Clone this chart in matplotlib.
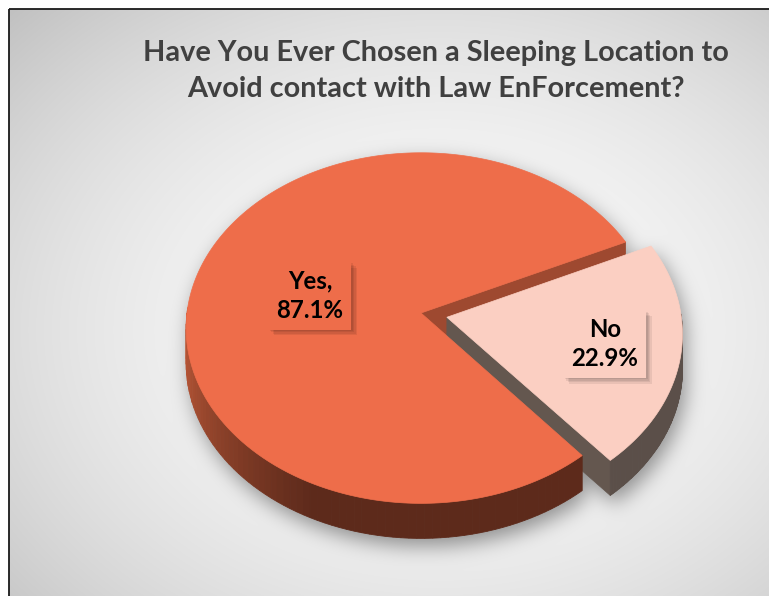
import numpy as np
import matplotlib
matplotlib.use("Agg")
import matplotlib.pyplot as plt
from matplotlib.path import Path
from matplotlib.patches import Polygon
import matplotlib.patheffects as pe

# Data
categories = ["Yes,", "No"]
values = [87.1, 22.9]
explode = [0.0, 0.113]
title = "Have You Ever Chosen a Sleeping Location to\nAvoid contact with Law EnForcement?"

# Colours
top_colors = ["#EE6D4A", "#FBCFC2"]
cut_colors = ["#9E4930", "#64574F"]
rim_light = np.array([196, 92, 58]) / 255
rim_dark = np.array([93, 42, 27]) / 255
no_rim = "#5B4F49"

W, H = 769, 596
FONT = "Lato"

# 3D pie layout (pixels)
CX, CY = 421, 313
RX, RY = 234, 174
K = 0.086          # perspective
DEPTH = 35
START = 25
label_r = [0.49, 0.68]


def proj(u, v, dz=0.0):
    w = 1 + K * v
    return CX + RX * u / w, CY - RY * v / w + dz


# slice angles from values
total = sum(values)
slices = []
a = START
for val, e in zip(values, explode):
    span = val / total * 360
    mid = np.radians(a + span / 2)
    slices.append((a, a + span, e * np.cos(mid), e * np.sin(mid)))
    a += span


def top_poly(s, dz=0.0, n=300):
    t1, t2, ox, oy = s
    t = np.radians(np.linspace(t1, t2, n))
    u = np.concatenate([[ox], ox + np.cos(t)])
    v = np.concatenate([[oy], oy + np.sin(t)])
    x, y = proj(u, v, dz)
    return np.column_stack([x, y])


def cut_face(s, ang):
    t1, t2, ox, oy = s
    t = np.radians(ang)
    x0, y0 = proj(ox, oy)
    x1, y1 = proj(ox + np.cos(t), oy + np.sin(t))
    return [(x0, y0), (x1, y1), (x1, y1 + DEPTH), (x0, y0 + DEPTH)]


def rim_color(i, deg):
    if i == 1:
        return no_rim
    f = np.clip(((deg % 360) - 180) / 65.0, 0, 1)
    return tuple(rim_light * (1 - f) + rim_dark * f)


def draw_rim(ax, i, s, n=160):
    t1, t2, ox, oy = s
    t = np.linspace(t1, t2, n + 1)
    for ta, tb in zip(t[:-1], t[1:]):
        m = np.radians((ta + tb) / 2)
        if np.sin(m) > 0.02:
            continue
        tt = np.radians(np.linspace(ta, tb, 3))
        x, y = proj(ox + np.cos(tt), oy + np.sin(tt))
        pts = list(zip(x, y)) + list(zip(x[::-1], y[::-1] + DEPTH))
        c = rim_color(i, (ta + tb) / 2)
        ax.add_patch(Polygon(pts, closed=True, fc=c, ec=c, lw=0.6, zorder=3))


def blur(arr, sigma):
    r = int(3 * sigma)
    k = np.exp(-0.5 * (np.arange(-r, r + 1) / sigma) ** 2)
    k /= k.sum()
    p = np.pad(arr, r, mode="constant")
    h = sum(k[j] * p[:, j:j + arr.shape[1]] for j in range(2 * r + 1))
    return sum(k[j] * h[j:j + arr.shape[0], :] for j in range(2 * r + 1))


# background: radial grey gradient plus soft shadow of the pie
yy, xx = np.mgrid[0:H, 0:W] + 0.5
d2 = ((xx - 440) / 560) ** 2 + ((yy - 330) / 430) ** 2
bg = np.clip(250 - 50 * d2, 185, 255) / 255

pts = np.column_stack([xx.ravel(), yy.ravel()])
mask = np.zeros(H * W, dtype=bool)
for s in slices:
    for dz in np.linspace(0, DEPTH, 8):
        poly = top_poly(s, dz + 8, n=120)
        poly[:, 0] += 4
        mask |= Path(poly).contains_points(pts)
shadow = blur(mask.reshape(H, W).astype(float), 10)
bg = bg * (1 - 0.4 * shadow)
bg[:9, :] = 1.0
bg[:, :9] = 1.0
rgb = np.dstack([bg, bg, bg])

fig = plt.figure(figsize=(W / 100, H / 100), dpi=100)
ax = fig.add_axes([0, 0, 1, 1])
ax.imshow(rgb, extent=(0, W, H, 0), zorder=0, interpolation="bilinear")
ax.set_xlim(0, W)
ax.set_ylim(H, 0)
ax.axis("off")

# visible cut faces first
for i, s in enumerate(slices):
    t1, t2, _, _ = s
    if np.sin(np.radians(t1 - 90)) < 0:
        ax.add_patch(Polygon(cut_face(s, t1), closed=True, fc=cut_colors[i],
                             ec=cut_colors[i], lw=0.5, zorder=2))
    if np.sin(np.radians(t2 + 90)) < 0:
        ax.add_patch(Polygon(cut_face(s, t2), closed=True, fc=cut_colors[i],
                             ec=cut_colors[i], lw=0.5, zorder=2))

# exploded slices behind, then the rest
order = sorted(range(len(slices)), key=lambda j: -explode[j])
for i in order:
    s = slices[i]
    draw_rim(ax, i, s)
    ax.add_patch(Polygon(top_poly(s), closed=True, fc=top_colors[i],
                         ec=top_colors[i], lw=0.5, zorder=3))

# data labels
shadow_fx = [pe.SimplePatchShadow(offset=(o, -o), shadow_rgbFace="k", alpha=0.07)
             for o in (1, 2, 3, 4)] + [pe.Normal()]
for i, s in enumerate(slices):
    t1, t2, ox, oy = s
    m = np.radians((t1 + t2) / 2)
    lx, ly = proj(ox + label_r[i] * np.cos(m), oy + label_r[i] * np.sin(m))
    txt = f"{categories[i]}\n{values[i]:.1f}%"
    t = ax.text(lx, ly + 1, txt, ha="center", va="center", fontsize=17.3,
                fontweight="bold", family=FONT, color="black", linespacing=1.3,
                zorder=5,
                bbox=dict(boxstyle="square,pad=0.33", fc=top_colors[i], ec="none"))
    t.get_bbox_patch().set_path_effects(shadow_fx)

ax.text(436, 71, title, ha="center", va="center", fontsize=20.8,
        fontweight="bold", family=FONT, color="#404040", linespacing=1.48, zorder=6)

# chart frame (cropped on the right and bottom)
ax.plot([9, 9], [9, H], color="#1a1a1a", lw=1.3, zorder=7, solid_capstyle="butt")
ax.plot([9, W], [9, 9], color="#1a1a1a", lw=1.3, zorder=7, solid_capstyle="butt")

fig.savefig("out.png", dpi=100)
